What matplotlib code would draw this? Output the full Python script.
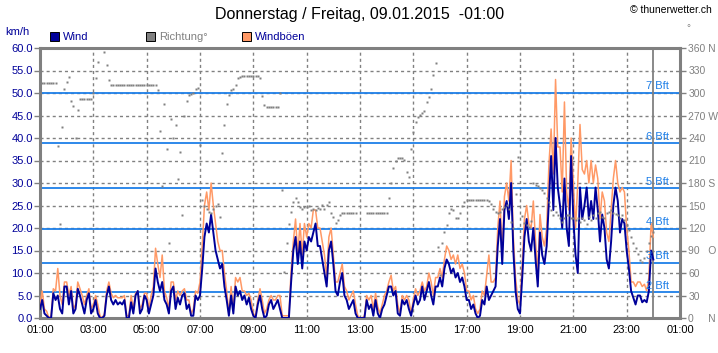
import numpy as np
import matplotlib
matplotlib.use('Agg')
import matplotlib.pyplot as plt
from matplotlib.patches import Rectangle

nan = float('nan')

# ---------------- data (5-minute values from 01:00) ----------------
step_minutes = 5

wind = [
    2, 4, 1, 0.5, 0, 0, 5.5, 4, 5, 2, 1, 7,            # 01
    7, 3, 6, 1, 2, 6.5, 5, 3, 1, 4, 5.5, 1,            # 02
    2, 4, 1, 0, 0, 0.5, 5, 7, 4, 3, 4, 3,              # 03
    3.5, 3, 4, 0, 0, 3.5, 1, 5, 6, 1, 2, 5,            # 04
    4, 1, 3, 5, 11, 8, 6, 8, 4, 3, 1, 6,               # 05
    7, 2, 4.5, 3, 5, 5.5, 2, 3, 0.5, 0.5, 5, 4,        # 06
    5, 11, 18, 21, 19, 23, 19, 15, 13, 11, 12, 7,      # 07
    4, 0.5, 5, 1, 7, 5, 6, 4, 5, 3, 4.5, 2,            # 08
    0.5, 0, 3, 5, 2, 0, 0.5, 3, 4, 2, 3, 4,            # 09
    2, 0, 0, 0, 0, 8, 15, 18, 12, 17, 11, 17,          # 10
    15, 18, 17, 19, 21, 16, 16, 13, 10, 7, 15, 17,     # 11
    12, 6, 5, 8, 10, 5, 4, 2, 3, 4, 1, 0,              # 12
    0, 0, 0, 4, 2, 3, 0.5, 4, 1, 0, 2, 3,              # 13
    5, 7, 7, 5, 6, 1, 0.5, 4, 3, 4, 2, 0.5,            # 14
    3, 5, 3, 4, 7, 4, 6, 8, 5, 3, 7, 7,                # 15
    9, 7, 11, 13, 12, 10, 11, 9, 10, 8, 9, 7,          # 16
    4, 4, 2, 3, 1, 0, 0.5, 4, 3, 7, 4, 5,              # 17
    6, 7, 16, 22, 12, 24, 26, 22, 30, 15, 6, 2,        # 18
    1, 9, 18, 22, 17, 15, 20, 13, 7, 19, 14, 12,       # 19
    16, 26, 36, 24, 40, 29, 25, 20, 31, 20, 16, 36,    # 20
    22, 14, 10, 29, 22, 25, 29, 22, 26, 22, 29, 24,    # 21
    17, 23, 20, 13, 11, 17, 25, 29, 26, 19, 22, 21,    # 22
    15, 11, 6, 4.5, 3, 5, 5, 3.5, 4, 3.5, 6, 15, 13,   # 23-00
]

gust = [
    3, 6, 2, 1.5, 0, 0.5, 6.5, 6, 11, 5, 3, 8,
    8, 5, 7, 2, 3, 8, 6.5, 5, 3, 5, 6.5, 2,
    3, 5, 3, 0.5, 0, 1, 6, 8, 5.5, 4.5, 5, 4.5,
    4.5, 4.5, 5, 0.5, 0.5, 5, 2, 5.5, 6, 2, 3, 5.5,
    5.5, 2, 5, 7, 15.5, 12, 9, 14, 6, 4.5, 2, 8,
    8, 4, 6, 5, 6, 6.5, 4, 4, 1, 2, 6, 5.5,
    8, 16, 25, 28, 24, 30, 25, 21, 17, 15, 15, 10,
    6, 1, 7, 2, 9, 8, 9, 6, 6, 5, 5.5, 4,
    1, 0.5, 4, 6.5, 4, 1, 2, 4, 5, 4, 4, 5,
    5, 0.5, 0.5, 0.5, 0.5, 10.5, 17, 22, 14, 21, 14, 21,
    18, 21, 20, 24, 24, 20, 20, 17, 14, 9, 18, 20,
    14, 8, 8, 10, 12, 7, 6, 4, 5, 6, 3, 0.5,
    0, 0, 0.5, 5, 4, 5, 2, 5.5, 2.5, 1, 3, 5,
    6, 8, 9.5, 6, 7, 3, 1, 5, 4, 5, 4, 1,
    4, 6.5, 5, 6, 8, 6, 7, 10, 8, 5, 9, 9,
    11, 9, 13, 16, 15, 13, 14, 12, 14, 11, 12, 10,
    6, 6, 4, 5, 2, 1, 2, 6, 5, 9.5, 14, 8,
    8, 9, 20, 26, 15, 27, 30, 26, 35, 18, 9, 4,
    3, 12, 22, 25, 21, 20, 26, 17, 10, 23, 18, 16,
    20, 34, 42, 32, 53, 38, 38, 28, 48, 28, 24, 40,
    30, 20, 30, 43, 33, 32, 35, 30, 35, 30, 34, 31,
    22, 28, 26, 19, 17, 24, 31, 35, 30, 28, 29, 28,
    20, 15, 8, 8, 7, 8, 8, 7, 7.5, 6, 9, 21, 18,
]

direction = [
    313, 313, 313, 313, 313, 313, 313, 313, 230, 125, 255, 306,
    315, 322, 290, 283, 240, 278, 292, 292, 292, 292, 292, 292,
    300, 320, 342, nan, nan, 355, 337, 318, 311, 311, 311, 311,
    311, 311, 311, 311, 311, 311, 311, 311, 311, 311, 311, 311,
    311, 311, 311, 311, 311, 304, 250, 176, 285, 225, 100, 265,
    240, 257, 186, 222, 137, 270, 290, 297, 299, 300, 305, 307,
    231, 158, 150, 146, 142, 140, 145, 150, 152, 135, 220, 258,
    285, 297, 304, 306, 311, 320, 322, 323, 323, 323, 323, 323,
    323, 323, 323, 320, 296, 284, 282, 282, 282, 282, 282, 282,
    300, 171, 62, 100, 125, 142, 155, 160, 155, 148, 146, 148,
    148, 150, 144, 146, 144, 147, 145, 151, 146, 151, 155, 140,
    135, 127, 131, 137, 140, 140, 140, 140, 140, 140, 140, nan,
    nan, nan, nan, 140, 140, 140, 140, 140, 140, 140, 140, 140,
    140, 160, 180, 200, 209, 213, 214, 214, 211, 195, 188, 225,
    248, 262, 268, 271, 273, 276, 288, 295, 306, 324, 340, 95,
    57, 100, 115, 124, 140, 146, 144, 133, 133, 140, 150, 155,
    157, 158, 158, 158, 158, 158, 158, 158, 158, 158, 156, 152,
    146, 141, 140, 142, 146, 148, 151, 145, 128, 120, 165, 215,
    250, 136, 127, 124, 122, 129, 180, 178, 176, 174, 171, 167,
    160, 155, 144, 137, 142, 137, 133, 128, 133, 137, 137, 133,
    133, 131, 133, 128, 133, 131, 126, 135, 131, 137, 133, 140,
    142, 135, 133, 140, 142, 144, 140, 139, 137, 133, 137, 131,
    124, 117, 108, 100, 93, 85, 78, 75, 80, 90, 100, 110, 115,
]

x_ticks = [0, 2, 4, 6, 8, 10, 12, 14, 16, 18, 20, 22, 24]
x_labels = ["01:00", "03:00", "05:00", "07:00", "09:00", "11:00", "13:00",
            "15:00", "17:00", "19:00", "21:00", "23:00", "01:00"]
y_ticks = [0, 5, 10, 15, 20, 25, 30, 35, 40, 45, 50, 55, 60]
dir_ticks = [0, 30, 60, 90, 120, 150, 180, 210, 240, 270, 300, 330, 360]
dir_labels = ["0     N", "30", "60", "90   O", "120", "150", "180 S", "210",
              "240", "270 W", "300", "330", "360 N"]
bft_levels = [5.76, 12.24, 19.8, 28.8, 38.88, 50.04]
bft_labels = ["2 Bft", "3 Bft", "4 Bft", "5 Bft", "6 Bft", "7 Bft"]
now_time = 23.0

title = "Donnerstag / Freitag, 09.01.2015  -01:00"

# ---------------- style ----------------
plt.rcParams['font.family'] = ['Liberation Sans', 'DejaVu Sans']
NAVY = '#000099'
GRAY = '#808080'
ORANGE = '#FF9966'
BLUE = '#1E7FE8'

W, H = 718, 353
fig = plt.figure(figsize=(W / 100, H / 100), dpi=100)
ax = fig.add_axes([40 / W, 35 / H, 640 / W, 270 / H])

t = np.arange(len(wind)) * step_minutes / 60.0

ax.set_xlim(0, 24)
ax.set_ylim(0, 60)
ax.set_xticks(x_ticks)
ax.set_xticklabels(x_labels)
ax.set_yticks(y_ticks)
ax.set_yticklabels([f"{v:.1f}" for v in y_ticks])

ax.grid(True, color=GRAY, linestyle=(0, (2.2, 2.2)), linewidth=1.0, zorder=0)
ax.set_axisbelow(True)

for lev in bft_levels:
    ax.axhline(lev, color=BLUE, lw=1.3, zorder=1)

ax.axvline(now_time, color=GRAY, lw=1.3, zorder=1)

ax.plot(t, gust, color=ORANGE, lw=1.1, zorder=3)
ax.plot(t, wind, color=NAVY, lw=1.4, zorder=4)

for sp in ax.spines.values():
    sp.set_color(GRAY)
    sp.set_linewidth(2.2)

ax.tick_params(axis='y', direction='out', length=4, width=1, color=GRAY,
               labelcolor=NAVY, labelsize=8, pad=1)
ax.tick_params(axis='x', direction='out', length=0, labelcolor='black',
               labelsize=8, pad=5)

ax2 = ax.twinx()
ax2.set_ylim(0, 360)
ax2.plot(t, direction, 's', ms=2.0, color=GRAY, mec='none', zorder=5)
ax2.set_yticks(dir_ticks)
ax2.set_yticklabels(dir_labels, ha='left')
ax2.tick_params(axis='y', direction='out', length=4, width=1, color=GRAY,
                labelcolor=GRAY, labelsize=7.5, pad=2)
for sp in ax2.spines.values():
    sp.set_visible(False)

for lev, lab in zip(bft_levels, bft_labels):
    ax2.text(22.72, lev * 6 + 2, lab, color=BLUE, fontsize=8,
             ha='left', va='bottom', zorder=6)

# ---------------- header texts ----------------
def fy(y):
    return 1 - y / H

fig.text(360 / W, fy(15), title, ha='center', va='center', fontsize=11.5)
fig.text(712 / W, fy(10), "\u00a9 thunerwetter.ch", ha='right', va='center',
         fontsize=7.5)
fig.text(5 / W, fy(32), "km/h", color=NAVY, fontsize=8, ha='left', va='center')
fig.text(686 / W, fy(28), "\u00b0", color=GRAY, fontsize=7, ha='left', va='center')

legend_items = [(50, NAVY, "Wind", NAVY),
                (146, GRAY, "Richtung\u00b0", GRAY),
                (242, ORANGE, "Windb\u00f6en", NAVY)]
for x0, fc, label, tc in legend_items:
    fig.patches.append(Rectangle((x0 / W, fy(41)), 9 / W, 9 / H,
                                 facecolor=fc, edgecolor='black', lw=0.7,
                                 transform=fig.transFigure, figure=fig))
    fig.text((x0 + 13) / W, fy(36.5), label, color=tc, fontsize=8,
             ha='left', va='center')

fig.savefig('out.png', dpi=100)
